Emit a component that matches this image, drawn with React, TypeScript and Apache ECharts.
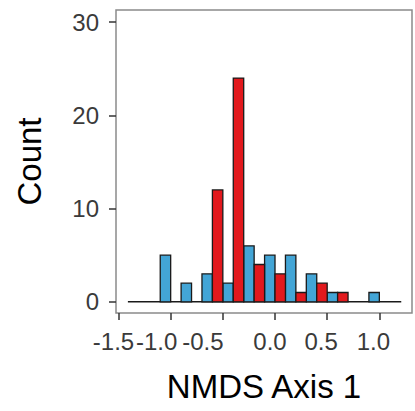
import React, { useEffect, useRef } from "react";
import * as echarts from "echarts";

const binCenters = [-1.0, -0.8, -0.6, -0.4, -0.2, 0.0, 0.2, 0.4, 0.6, 0.8, 1.0];
const blueCounts = [5, 2, 3, 2, 6, 5, 5, 3, 1, 0, 1];
const redCounts = [0, 0, 12, 24, 4, 3, 1, 2, 1, 0, 0];
const binWidth = 0.2;
const baselineExtent = [-1.41, 1.21];
const xTicks = [-1.5, -1.0, -0.5, 0.0, 0.5, 1.0];
const yTicks = [0, 10, 20, 30];

const BLUE = "#43a5d6";
const RED = "#e2191d";
const FONT = "'Liberation Sans', Arial, Helvetica, sans-serif";

// horizontal nudge (px, leftwards) of each x tick label, to mimic the reference's packing
const xLabelNudge = [5, 14, 20, 5, 6, 6];

function makeRender(side: number, color: string) {
  return (_params: any, api: any) => {
    const c = api.value(0);
    const v = api.value(1);
    if (!v) return null;
    const x0 = side < 0 ? c - binWidth / 2 : c;
    const x1 = side < 0 ? c : c + binWidth / 2;
    const p0 = api.coord([x0, v]);
    const p1 = api.coord([x1, 0]);
    return {
      type: "rect",
      shape: { x: p0[0], y: p0[1], width: p1[0] - p0[0], height: p1[1] - p0[1] },
      style: { fill: color, stroke: "#1a1a1a", lineWidth: 1.3 },
    };
  };
}

export default function App() {
  const ref = useRef<HTMLDivElement>(null);
  useEffect(() => {
    if (!ref.current) return;
    const chart = echarts.init(ref.current, undefined, { renderer: "svg" });
    const rich: Record<string, any> = {};
    xLabelNudge.forEach((n, i) => {
      rich["s" + i] = {
        fontSize: 24,
        color: "#3a3a3a",
        fontFamily: FONT,
        padding: [0, n * 2, 0, 0],
      };
    });
    chart.setOption({
      animation: false,
      backgroundColor: "#ffffff",
      grid: {
        left: 116,
        right: 3,
        top: 10,
        bottom: 98,
        show: true,
        borderColor: "#8a8a8a",
        borderWidth: 1.5,
        backgroundColor: "transparent",
        outerBoundsMode: "none",
      },
      xAxis: {
        type: "value",
        min: -1.524,
        max: 1.313,
        name: "NMDS Axis 1",
        nameLocation: "middle",
        nameGap: 57,
        nameTextStyle: { fontSize: 33, color: "#000", fontFamily: FONT },
        axisLine: { show: false, onZero: false },
        splitLine: { show: false },
        axisTick: {
          show: true,
          length: 7,
          lineStyle: { color: "#333", width: 1.5 },
          customValues: xTicks,
        },
        axisLabel: {
          customValues: xTicks,
          formatter: (v: number) => {
            let idx = xTicks.findIndex((t) => Math.abs(t - v) < 1e-6);
            if (idx < 0) idx = 0;
            return "{s" + idx + "|" + v.toFixed(1) + "}";
          },
          rich,
          fontSize: 24,
          color: "#3a3a3a",
          fontFamily: FONT,
          margin: 16,
        },
      },
      yAxis: {
        type: "value",
        min: -1.2,
        max: 31.3,
        name: "Count",
        nameLocation: "middle",
        nameGap: 70,
        nameTextStyle: { fontSize: 33, color: "#000", fontFamily: FONT },
        axisLine: { show: false, onZero: false },
        splitLine: { show: false },
        axisTick: {
          show: true,
          length: 7,
          lineStyle: { color: "#333", width: 1.5 },
          customValues: yTicks,
        },
        axisLabel: {
          customValues: yTicks,
          fontSize: 24,
          color: "#3a3a3a",
          fontFamily: FONT,
          margin: 17,
        },
      },
      series: [
        {
          type: "line",
          name: "baseline",
          data: [
            [baselineExtent[0], 0],
            [baselineExtent[1], 0],
          ],
          symbol: "none",
          lineStyle: { color: "#1a1a1a", width: 1.5 },
          z: 1,
          silent: true,
        },
        {
          type: "custom",
          name: "Group 1",
          renderItem: makeRender(-1, BLUE),
          encode: { x: 0, y: 1 },
          data: binCenters.map((c, i) => [c, blueCounts[i]]),
          z: 3,
        },
        {
          type: "custom",
          name: "Group 2",
          renderItem: makeRender(1, RED),
          encode: { x: 0, y: 1 },
          data: binCenters.map((c, i) => [c, redCounts[i]]),
          z: 3,
        },
      ],
    });
    return () => chart.dispose();
  }, []);
  return (
    <div
      ref={ref}
      style={{ position: "fixed", left: 0, top: 0, width: 415, height: 411, background: "#fff" }}
    />
  );
}
